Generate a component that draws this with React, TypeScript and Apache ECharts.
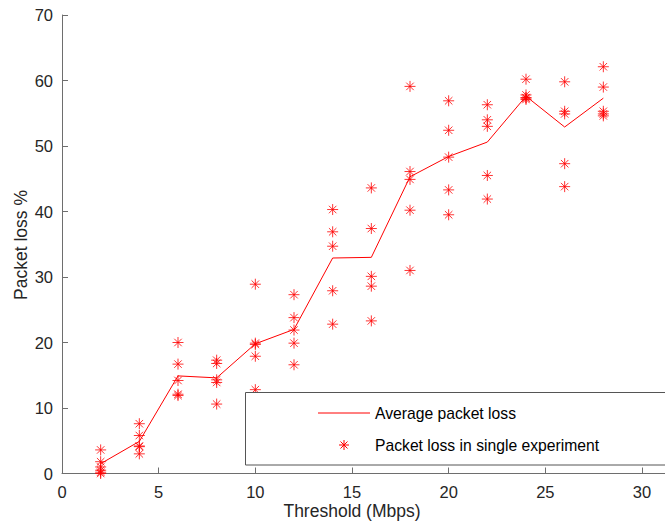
import React, { useEffect, useRef } from "react";
import * as echarts from "echarts";

const thresholds = [2, 4, 6, 8, 10, 12, 14, 16, 18, 20, 22, 24, 26, 28];
const averageLoss = [1.5, 4.9, 14.9, 14.6, 19.8, 22.0, 32.9, 33.0, 45.3, 48.4, 50.6, 57.6, 52.9, 57.3];
const singleLoss: number[][] = [
  [3.6, 1.8, 1.0, 0.5, 0.2, 0.0],
  [7.6, 5.8, 4.2, 4.1, 3.0],
  [20.0, 16.7, 14.2, 12.1, 11.9],
  [17.3, 16.8, 14.3, 13.9, 10.6],
  [28.9, 19.9, 19.7, 17.9, 12.8],
  [27.3, 23.8, 21.9, 19.9, 16.6],
  [40.3, 36.9, 34.7, 27.9, 22.8],
  [43.6, 37.4, 30.1, 28.6, 23.3],
  [59.1, 46.1, 44.9, 40.2, 31.0],
  [56.9, 52.4, 48.3, 43.3, 39.5],
  [56.3, 54.0, 53.0, 45.5, 41.9],
  [60.2, 57.8, 57.4, 57.3, 57.1],
  [59.8, 55.3, 54.9, 47.3, 43.8],
  [62.1, 59.0, 55.3, 54.9, 54.6],
];
const xTicks = [0, 5, 10, 15, 20, 25, 30];
const yTicks = [0, 10, 20, 30, 40, 50, 60, 70];
const legendNames = ["Average packet loss", "Packet loss in single experiment"];

const STAR = "path://M5 0 L5 10 M0 5 L10 5 M1.6 1.6 L8.4 8.4 M8.4 1.6 L1.6 8.4";
const FONT = "Liberation Sans, Arial, Helvetica, sans-serif";

export default function App() {
  const ref = useRef<HTMLDivElement>(null);
  useEffect(() => {
    if (!ref.current) return;
    const chart = echarts.init(ref.current, undefined, { renderer: "svg" });
    const scatterData: number[][] = [];
    thresholds.forEach((t, i) => singleLoss[i].forEach((v) => scatterData.push([t, v])));
    const axisColor = "#6e6e6e";
    const textColor = "#262626";
    const lx = 344, ly = 445, r = 5, d = 3.5;
    chart.setOption({
      animation: false,
      backgroundColor: "#fff",
      grid: { left: 62, top: 15, right: 23, bottom: 51.5, containLabel: false },
      xAxis: {
        type: "value",
        min: 0,
        max: 30,
        interval: 5,
        axisLine: { show: true, lineStyle: { color: axisColor, width: 1 } },
        axisTick: { show: true, inside: true, length: 6, lineStyle: { color: axisColor } },
        axisLabel: { color: textColor, fontSize: 16.5, fontFamily: FONT, margin: 10,
          formatter: (v: number) => (xTicks.includes(v) ? String(v) : "") },
        splitLine: { show: false },
      },
      yAxis: {
        type: "value",
        min: 0,
        max: 70,
        interval: 10,
        axisLine: { show: true, lineStyle: { color: axisColor, width: 1 } },
        axisTick: { show: true, inside: true, length: 6, lineStyle: { color: axisColor } },
        axisLabel: { color: textColor, fontSize: 16.5, fontFamily: FONT, margin: 9,
          formatter: (v: number) => (yTicks.includes(v) ? String(v) : "") },
        splitLine: { show: false },
      },
      series: [
        {
          type: "line",
          name: legendNames[0],
          data: thresholds.map((t, i) => [t, averageLoss[i]]),
          symbol: "none",
          lineStyle: { color: "#ff0000", width: 1 },
          z: 3,
        },
        {
          type: "scatter",
          name: legendNames[1],
          data: scatterData,
          symbol: STAR,
          symbolSize: 11,
          itemStyle: { color: "rgba(0,0,0,0)", borderColor: "#ff0000", borderWidth: 1 },
          z: 4,
        },
      ],
      graphic: [
        { type: "line", shape: { x1: 642, y1: 473.5, x2: 665, y2: 473.5 }, style: { stroke: axisColor, lineWidth: 1 } },
        { type: "text", x: 352, y: 511, style: { text: "Threshold (Mbps)", fontSize: 17.5, fontFamily: FONT, fill: textColor, align: "center", verticalAlign: "middle" } },
        { type: "text", x: 21, y: 245, rotation: Math.PI / 2, style: { text: "Packet loss %", fontSize: 17.5, fontFamily: FONT, fill: textColor, align: "center", verticalAlign: "middle" } },
        { type: "rect", shape: { x: 245.5, y: 392.5, width: 440, height: 72.5 }, style: { fill: "#fff", stroke: "#555", lineWidth: 1 }, z: 100 },
        { type: "line", shape: { x1: 318, y1: 413, x2: 370, y2: 413 }, style: { stroke: "#ff0000", lineWidth: 1 }, z: 101 },
        { type: "text", x: 375, y: 413, style: { text: legendNames[0], fontSize: 15.7, fontFamily: FONT, fill: "#000", align: "left", verticalAlign: "middle" }, z: 101 },
        { type: "line", shape: { x1: lx, y1: ly - r, x2: lx, y2: ly + r }, style: { stroke: "#ff0000", lineWidth: 1 }, z: 101 },
        { type: "line", shape: { x1: lx - r, y1: ly, x2: lx + r, y2: ly }, style: { stroke: "#ff0000", lineWidth: 1 }, z: 101 },
        { type: "line", shape: { x1: lx - d, y1: ly - d, x2: lx + d, y2: ly + d }, style: { stroke: "#ff0000", lineWidth: 1 }, z: 101 },
        { type: "line", shape: { x1: lx + d, y1: ly - d, x2: lx - d, y2: ly + d }, style: { stroke: "#ff0000", lineWidth: 1 }, z: 101 },
        { type: "text", x: 375, y: 445, style: { text: legendNames[1], fontSize: 15.7, fontFamily: FONT, fill: "#000", align: "left", verticalAlign: "middle" }, z: 101 },
      ],
    });
    return () => chart.dispose();
  }, []);
  return (
    <div
      ref={ref}
      style={{ position: "fixed", left: 0, top: 0, width: 665, height: 525, background: "#fff" }}
    />
  );
}
